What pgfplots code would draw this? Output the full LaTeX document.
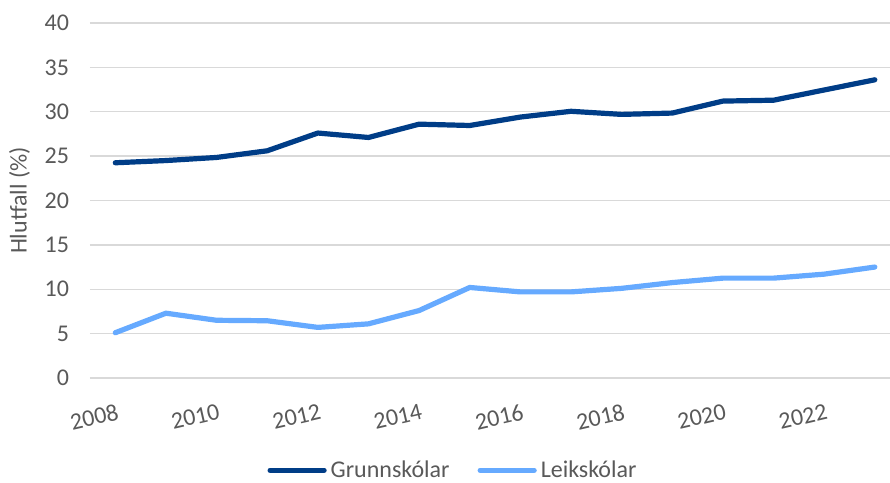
\documentclass[border=0pt]{standalone}
\usepackage{pgfplots}
\pgfplotsset{compat=1.18}
\usetikzlibrary{calc}
\usepackage{fontspec}
\setmainfont{Carlito}
\definecolor{grunn}{RGB}{0,61,135}
\definecolor{leik}{RGB}{102,170,255}
\definecolor{txt}{RGB}{89,89,89}
\definecolor{grd}{RGB}{217,217,217}

\begin{document}
\begin{tikzpicture}
\begin{axis}[
  scale only axis, width=400pt, height=177.5pt,
  xmin=2007.5, xmax=2023.3, ymin=0, ymax=40,
  xtick={2008,2010,...,2022}, ytick={0,5,...,40},
  x tick label style={/pgf/number format/1000 sep={}},
  /pgf/number format/assume math mode=true,
  xticklabel style={rotate=13, anchor=north east, yshift=-9pt, xshift=1pt},
  yticklabel style={xshift=-7pt},
  tick label style={font=\fontsize{12}{14}\selectfont, text=txt},
  major tick length=0pt,
  axis line style={draw=none},
  ymajorgrids, grid style={grd, line width=0.7pt},
  ylabel={Hlutfall (\%)}, ylabel style={font=\fontsize{12}{14}\selectfont, text=txt, yshift=0.5pt},
  legend columns=2,
  legend style={at={(0.455,-0.26)}, anchor=center, draw=none, font=\fontsize{12}{14}\selectfont, text=txt,
    /tikz/every even column/.append style={column sep=12pt}},
  legend image code/.code={\draw[#1, line cap=round] (0pt,0pt) -- (27pt,0pt);},
  clip=false,
]
\coordinate (sw) at (rel axis cs:0,0);
\coordinate (ne) at (rel axis cs:1,1);
\addplot[grunn, line width=2.6pt, line join=round, line cap=round] coordinates {
(2008,24.25) (2009,24.5) (2010,24.85) (2011,25.6) (2012,27.6) (2013,27.1) (2014,28.6) (2015,28.45)
(2016,29.4) (2017,30.05) (2018,29.7) (2019,29.85) (2020,31.2) (2021,31.3) (2022,32.45) (2023,33.6)};
\addlegendentry{Grunnskólar}
\addplot[leik, line width=2.6pt, line join=round, line cap=round] coordinates {
(2008,5.1) (2009,7.3) (2010,6.5) (2011,6.45) (2012,5.7) (2013,6.1) (2014,7.6) (2015,10.2)
(2016,9.7) (2017,9.7) (2018,10.1) (2019,10.75) (2020,11.25) (2021,11.25) (2022,11.7) (2023,12.5)};
\addlegendentry{Leikskólar}
\end{axis}
\pgfresetboundingbox
\path ($(sw)+(-45pt,-52.5pt)$) rectangle ($(ne)+(0pt,11.5pt)$);
\end{tikzpicture}
\end{document}
